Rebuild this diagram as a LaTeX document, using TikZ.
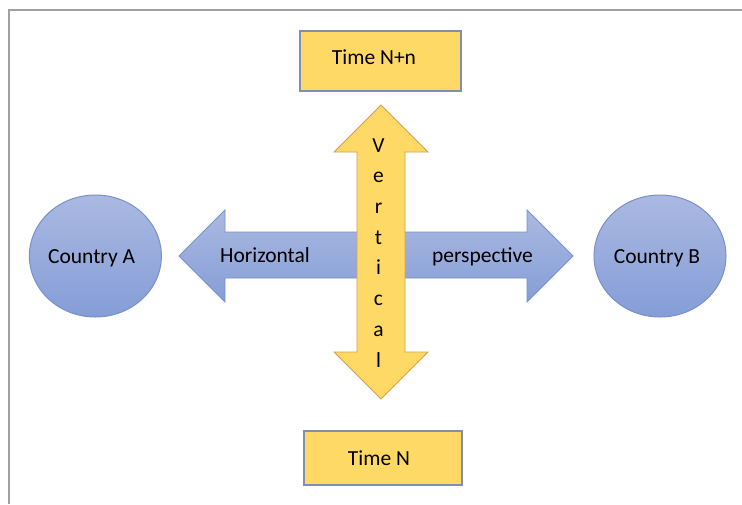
\documentclass[tikz,border=0pt]{standalone}
\usepackage{fontspec}
\setmainfont{Carlito}
\definecolor{yfill}{RGB}{255,217,102}
\definecolor{yedge}{RGB}{214,160,80}
\definecolor{boxedge}{RGB}{128,143,176}
\definecolor{btop}{RGB}{170,185,225}
\definecolor{bbot}{RGB}{133,157,215}
\definecolor{bedge}{RGB}{120,145,205}
\definecolor{frame}{RGB}{160,160,160}
\begin{document}
\begin{tikzpicture}[x=1pt,y=-1pt,
  lbl/.style={font=\fontsize{21.5}{26}\selectfont, text=black, inner sep=0pt, anchor=base},
  timebox/.style={draw=boxedge, line width=1.2pt, fill=yfill},
  country/.style={draw=bedge, line width=1pt, top color=btop, bottom color=bbot}]
\useasboundingbox (0,0) rectangle (742,504);
% frame
\draw[frame, line width=2pt] (9,504) -- (9,10) -- (742,10);
% boxes
\draw[timebox] (300,31) rectangle (461,91);
\draw[timebox] (304,431) rectangle (462,485);
% circles
\shade[country] (95.4,256) ellipse [x radius=66, y radius=61];
\shade[country] (660,256) ellipse [x radius=66, y radius=61];
% horizontal arrow
\shade[draw=bedge, line width=0.8pt, top color=btop, bottom color=bbot]
  (179,256) -- (225,210) -- (225,232) -- (527,232) -- (527,210) -- (573,256)
  -- (527,302) -- (527,278) -- (225,278) -- (225,302) -- cycle;
% vertical arrow
\draw[draw=yedge, line width=0.8pt, fill=yfill]
  (381,105) -- (428,152) -- (405,152) -- (405,352) -- (428,352) -- (381,399)
  -- (334,352) -- (357,352) -- (357,152) -- (334,152) -- cycle;
% labels
\node[lbl] (tnn) at (374,64) {Time N+n};
\node[lbl] (tn) at (379,465) {Time N};
\node[lbl] (ca) at (91.6,263) {Country A};
\node[lbl] (cb) at (657,263) {Country B};
\node[lbl] (hor) at (265,262) {Horizontal};
\node[lbl] (per) at (482.5,262) {perspective};
\foreach \ch/\yy [count=\i] in {V/152,e/182.7,r/213.4,t/244.1,i/274.8,c/305.5,a/336.2,l/367} {
  \node[lbl] (v\i) at (378.5,\yy) {\ch};
}
\end{tikzpicture}
\end{document}
